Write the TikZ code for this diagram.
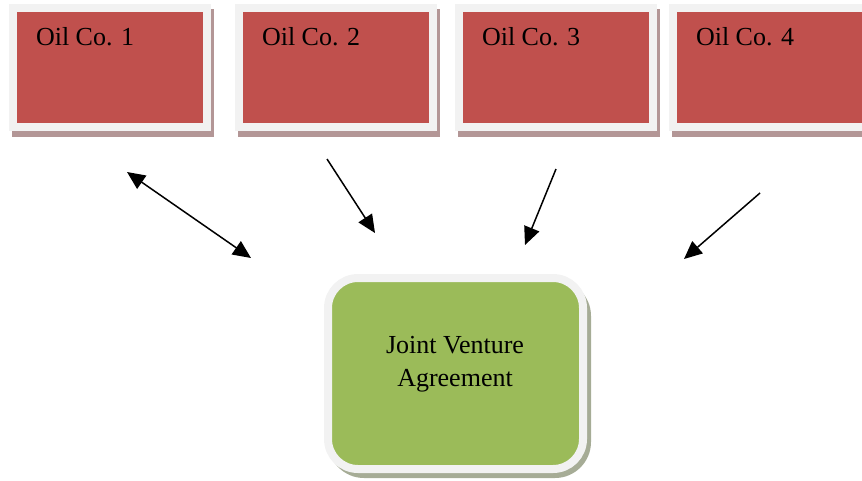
\documentclass[tikz,border=0pt]{standalone}
\usepackage{fontspec}
\setmainfont{Liberation Serif}
\usetikzlibrary{calc,arrows.meta}
\definecolor{oilred}{HTML}{C0504D}
\definecolor{jvgreen}{HTML}{9BBB59}
\definecolor{frame}{HTML}{F2F2F2}
\definecolor{redshadow}{HTML}{B39696}
\definecolor{greenshadow}{HTML}{A6AC96}
\tikzset{
  oilbox/.style={draw=frame, line width=8pt, fill=oilred, minimum width=194pt, minimum height=119pt, inner sep=0pt, outer sep=0pt},
  jvbox/.style={draw=frame, line width=8pt, fill=jvgreen, rounded corners=30pt, minimum width=255pt, minimum height=191pt, inner sep=0pt, outer sep=0pt},
  lbl/.style={font=\fontsize{26}{33}\selectfont, inner sep=0pt, outer sep=0pt},
  arr/.style={line width=1.5pt, -{Triangle[length=18pt,width=16pt]}},
  arrboth/.style={line width=1.5pt, {Triangle[length=18pt,width=16pt]}-{Triangle[length=18pt,width=16pt]}},
}
\begin{document}
\begin{tikzpicture}[x=1pt,y=-1pt]
\useasboundingbox (0,0) rectangle (862,480);
\clip (0,0) rectangle (862,480);
% shadows
\foreach \cx in {110,336,556,770}{
  \fill[redshadow] (\cx-98,9) rectangle (\cx+104,137);
}
\fill[greenshadow, rounded corners=36pt] (328,280) rectangle (591,478);
% boxes
\node[oilbox] (o1) at (110,67.5) {};
\node[oilbox] (o2) at (336,67.5) {};
\node[oilbox] (o3) at (556,67.5) {};
\node[oilbox] (o4) at (770,67.5) {};
\node[lbl, anchor=base west] (t1) at ($(o1.north west)+(23,37)$) {Oil Co. 1};
\node[lbl, anchor=base west] (t2) at ($(o2.north west)+(23,37)$) {Oil Co. 2};
\node[lbl, anchor=base west] (t3) at ($(o3.north west)+(23,37)$) {Oil Co. 3};
\node[lbl, anchor=base west] (t4) at ($(o4.north west)+(23,37)$) {Oil Co. 4};
\node[jvbox] (jv) at (455.5,373.5) {};
\node[lbl, align=center] (jvt) at (455,364) {Joint Venture\\Agreement};
% arrows
\coordinate (a1s) at (127,172);
\coordinate (a1e) at (251,258);
\coordinate (a2s) at (327,159);
\coordinate (a2e) at (375,233);
\coordinate (a3s) at (556,169);
\coordinate (a3e) at (525,245);
\coordinate (a4s) at (760,193);
\coordinate (a4e) at (684,259);
\draw[arrboth] (a1s) -- (a1e);
\draw[arr] (a2s) -- (a2e);
\draw[arr] (a3s) -- (a3e);
\draw[arr] (a4s) -- (a4e);
\end{tikzpicture}
\end{document}
